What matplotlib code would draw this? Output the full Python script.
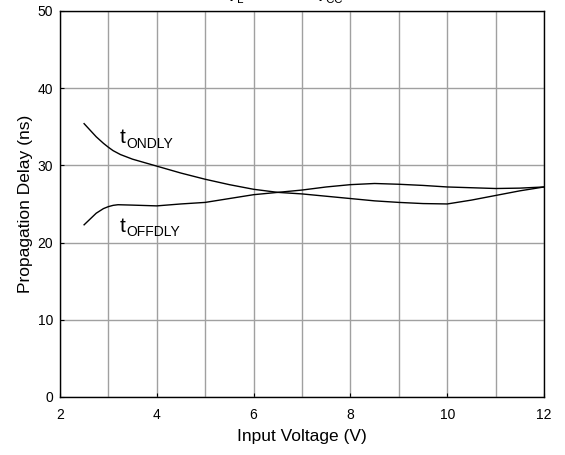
import numpy as np
import matplotlib.pyplot as plt
from matplotlib.ticker import MultipleLocator

plt.rcParams['font.family'] = ['Liberation Sans', 'DejaVu Sans']
plt.rcParams['mathtext.fontset'] = 'custom'
plt.rcParams['mathtext.rm'] = 'Liberation Sans'
plt.rcParams['mathtext.it'] = 'Liberation Sans'

# values
v_on = [2.5, 2.75, 2.9, 3.0, 3.1, 3.25, 3.5, 4.0, 4.5, 5.0, 5.5, 6.0, 6.5, 7.0, 7.5, 8.0,
        8.5, 9.0, 9.5, 10.0, 10.5, 11.0, 11.5, 12.0]
t_on = [35.4, 33.7, 32.85, 32.35, 31.9, 31.4, 30.8, 29.9, 29.0, 28.2, 27.5, 26.9, 26.5, 26.3,
        26.0, 25.7, 25.4, 25.2, 25.05, 25.0, 25.5, 26.1, 26.7, 27.2]

v_off = [2.5, 2.75, 2.9, 3.0, 3.1, 3.2, 3.5, 4.0, 4.5, 5.0, 5.5, 6.0, 6.5, 7.0, 7.5, 8.0,
         8.5, 9.0, 9.5, 10.0, 10.5, 11.0, 11.5, 12.0]
t_off = [22.3, 23.8, 24.4, 24.65, 24.82, 24.9, 24.85, 24.75, 25.0, 25.2, 25.7, 26.2, 26.5,
         26.8, 27.2, 27.5, 27.65, 27.55, 27.4, 27.2, 27.1, 27.0, 27.05, 27.2]

fig = plt.figure(figsize=(5.65, 4.55), dpi=100)
ax = fig.add_axes([0.106, 0.1275, 0.857, 0.8485])

ax.plot(v_on, t_on, color='black', lw=1.0)
ax.plot(v_off, t_off, color='black', lw=1.0)

ax.set_xlim(2, 12)
ax.set_ylim(0, 50)
ax.xaxis.set_major_locator(MultipleLocator(2))
ax.xaxis.set_minor_locator(MultipleLocator(1))
ax.yaxis.set_major_locator(MultipleLocator(10))
ax.grid(True, which='both', axis='x', color='#a0a0a0', lw=1.0)
ax.grid(True, which='major', axis='y', color='#a0a0a0', lw=1.0)
ax.tick_params(which='both', direction='in', length=3, labelsize=10)
ax.tick_params(axis='x', pad=8)
ax.tick_params(axis='y', pad=5)
ax.tick_params(which='minor', length=0)
for s in ax.spines.values():
    s.set_linewidth(1.0)

ax.set_xlabel('Input Voltage (V)', fontsize=12.5, labelpad=5)
ax.set_ylabel('Propagation Delay (ns)', fontsize=12.5, labelpad=3)

# curve labels: large "t" with a smaller subscript
ax.text(3.24, 32.85, 't', fontsize=15)
ax.annotate('ONDLY', xy=(3.24, 32.85), xytext=(4.6, -3), textcoords='offset points',
            fontsize=10)
ax.text(3.24, 21.4, 't', fontsize=15)
ax.annotate('OFFDLY', xy=(3.24, 21.4), xytext=(4.6, -3), textcoords='offset points',
            fontsize=10)

# title sits mostly above the visible area in the reference
fig.text(225 / 565, 0.998, r'$\mathregular{V_L}$', fontsize=12, ha='left', va='baseline')
fig.text(314 / 565, 0.998, r'$\mathregular{V_{CC}}$', fontsize=12, ha='left', va='baseline')

fig.savefig('out.png', dpi=100)
